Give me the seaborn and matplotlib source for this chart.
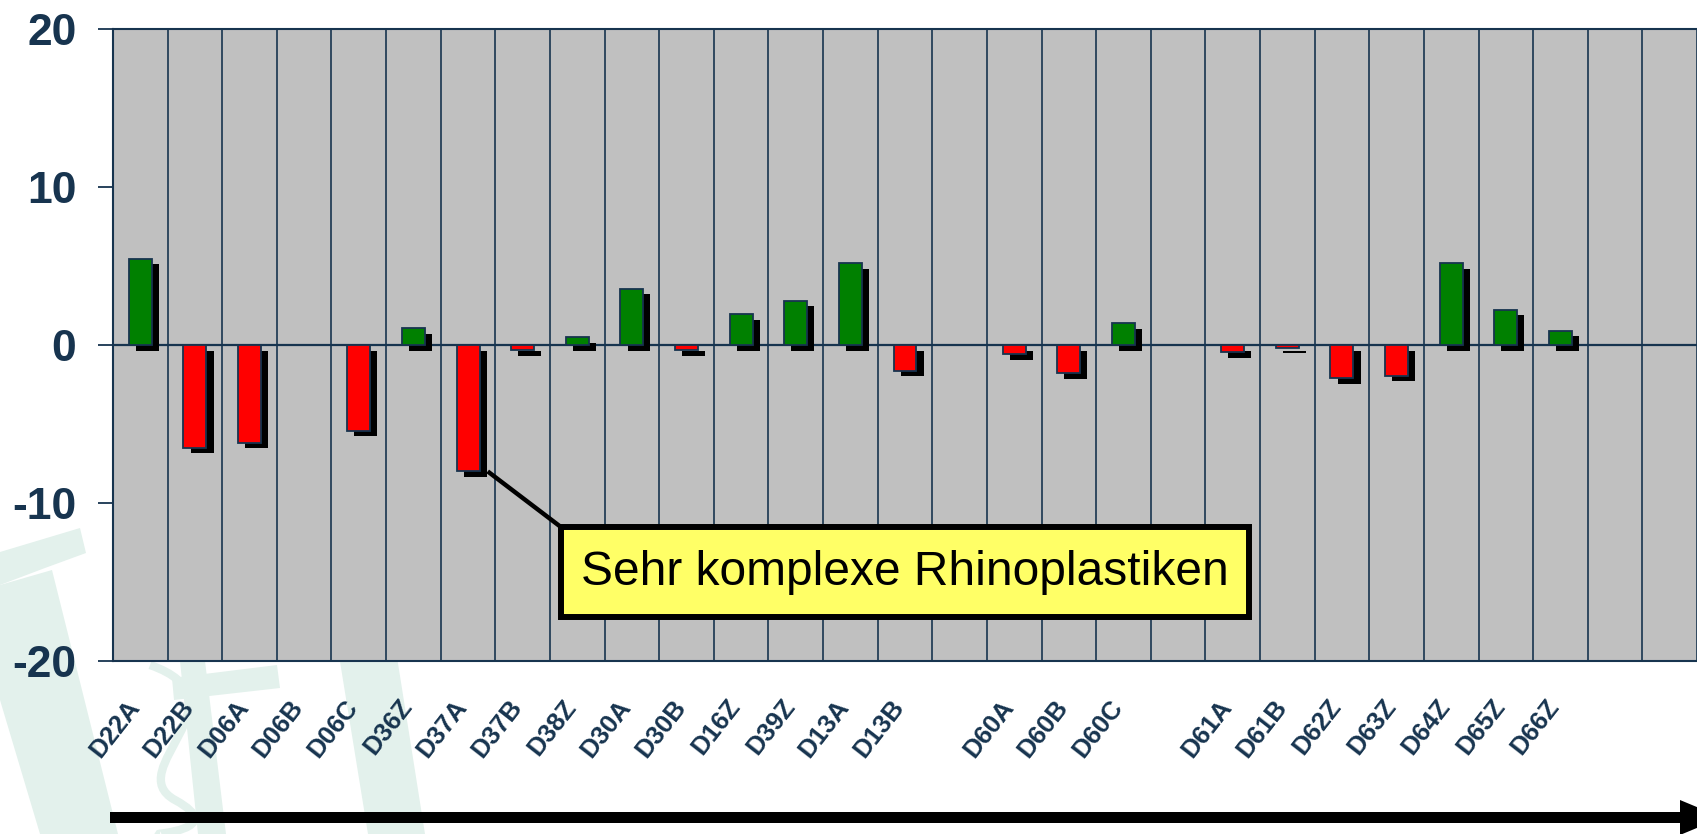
import numpy as np
import pandas as pd
import matplotlib
matplotlib.use("Agg")
import matplotlib.pyplot as plt
import seaborn as sns
from matplotlib.patches import Polygon, Rectangle, PathPatch
from matplotlib.path import Path

# categories (empty string = empty slot on the axis)
categories = ["D22A", "D22B", "D06A", "D06B", "D06C", "D36Z", "D37A", "D37B", "D38Z",
              "D30A", "D30B", "D16Z", "D39Z", "D13A", "D13B", "",
              "D60A", "D60B", "D60C", "",
              "D61A", "D61B", "D62Z", "D63Z", "D64Z", "D65Z", "D66Z", "", ""]
values = [5.47, -6.5, -6.18, None, -5.44, 1.05, -8.0, -0.32, 0.48,
          3.56, -0.32, 1.96, 2.8, 5.18, -1.64, None,
          -0.59, -1.79, 1.37, None,
          -0.46, -0.17, -2.1, -1.96, 5.18, 2.23, 0.9, None, None]
y_ticks = [-20, -10, 0, 10, 20]
note = "Sehr komplexe Rhinoplastiken"

navy = "#17344f"
W, H = 1697, 834

plt.rcParams["font.family"] = ["Liberation Sans", "DejaVu Sans"]

slots = [c if c else f"_gap{i}" for i, c in enumerate(categories)]
df = pd.DataFrame({"slot": slots, "value": values}).dropna()
df["sign"] = np.where(df["value"] >= 0, "pos", "neg")
df["pos"] = [slots.index(s) for s in df["slot"]]

fig = plt.figure(figsize=(W / 100, H / 100), dpi=100)

def px(pts):
    return [(x / W, 1 - y / H) for x, y in pts]

# faint logo watermark behind the chart
wm = "#e3f1ec"
for shape in [
    [(0, 552), (80, 528), (86, 553), (45, 568), (0, 585)],
    [(0, 585), (52, 570), (118, 834), (40, 834), (0, 700)],
    [(172, 678), (277, 665), (280, 688), (174, 700)],
    [(330, 600), (388, 600), (425, 834), (368, 834)],
    [(180, 661), (205, 661), (226, 834), (198, 834)],
]:
    fig.add_artist(Polygon(px(shape), closed=True, facecolor=wm, edgecolor="none",
                           transform=fig.transFigure, zorder=-1))
snake = Path(px([(150, 665), (250, 700), (120, 770), (175, 800), (230, 830), (150, 834), (160, 834)]),
             [Path.MOVETO, Path.CURVE4, Path.CURVE4, Path.CURVE4, Path.CURVE4, Path.CURVE4, Path.CURVE4])
fig.add_artist(PathPatch(snake, facecolor="none", edgecolor=wm, lw=6,
                         transform=fig.transFigure, zorder=-1))

ax = fig.add_axes([113 / W, 1 - 661 / H, (W - 113) / W, 632 / H])
ax.set_facecolor("#c0c0c0")
ax.set_axisbelow(True)

# drop shadows
ax.bar(df["pos"] + 0.13, df["value"], bottom=-0.35, width=0.42,
       color="black", linewidth=0, zorder=2.5)
sns.barplot(data=df, x="slot", y="value", hue="sign", order=slots,
            palette={"pos": "#008000", "neg": "#ff0000"}, saturation=1, dodge=False,
            width=0.42, edgecolor=navy, linewidth=1.3, legend=False, ax=ax, zorder=3)
ax.axhline(0, color=navy, lw=1.6, zorder=2.4)

ax.set_xlim(-0.5, -0.5 + (W - 113) / 54.9)
ax.set_ylim(-20, 20)
ax.set_yticks(y_ticks)
ax.set_yticklabels([str(t) for t in y_ticks], fontsize=32, fontweight="bold", color=navy)
ax.tick_params(axis="y", direction="out", length=10.8, width=1.3, color=navy, pad=15.5)

ax.set_xticks(range(len(categories)))
ax.set_xticklabels(categories, rotation=52, ha="right", va="baseline", rotation_mode="anchor",
                   fontsize=18.5, fontweight="bold", color=navy)
ax.tick_params(axis="x", which="major", length=0, pad=33)
ax.set_xticks(np.arange(-0.5, len(categories), 1), minor=True)
ax.tick_params(axis="x", which="minor", length=0)
ax.grid(which="minor", axis="x", color=navy, lw=1.2)
ax.grid(which="major", axis="both", visible=False)
ax.set_xlabel("")
ax.set_ylabel("")

for side in ["left", "top", "bottom"]:
    ax.spines[side].set_color(navy)
    ax.spines[side].set_linewidth(1.5)
ax.spines["right"].set_visible(False)

# callout box
ax.plot([6.36, 7.70], [-8.0, -11.52], color="black", lw=3.2, zorder=4, solid_capstyle="butt")
ax.add_patch(Rectangle((7.70, -17.22), 12.6, 5.7, facecolor="#ffff66",
                       edgecolor="black", lw=4.3, zorder=4))
ax.text(14.0, -14.37, note, fontsize=34.5, color="black", ha="center", va="center", zorder=5)

# bottom arrow
arrow = [(110, 812), (1680, 812), (1680, 800), (1722, 817.5), (1680, 835),
         (1680, 823), (110, 823)]
fig.add_artist(Polygon(px(arrow), closed=True, facecolor="black", edgecolor="none",
                       transform=fig.transFigure))

fig.savefig("out.png", dpi=100)
